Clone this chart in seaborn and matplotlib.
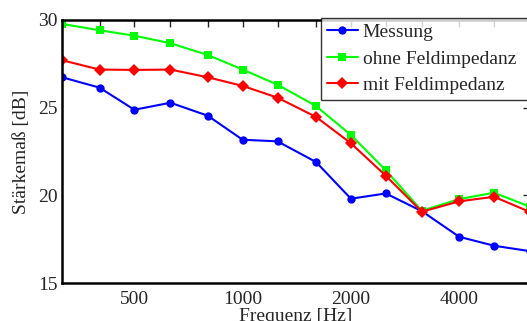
import numpy as np
import pandas as pd
import matplotlib
matplotlib.use("Agg")
import matplotlib.pyplot as plt
import seaborn as sns
from matplotlib.ticker import FixedLocator, NullFormatter

# Terzmittenfrequenzen
freq = [315, 400, 500, 630, 800, 1000, 1250, 1600, 2000, 2500, 3150, 4000, 5000, 6300]
messung = [26.73, 26.14, 24.88, 25.28, 24.54, 23.17, 23.08, 21.90, 19.81, 20.11, 19.10, 17.64, 17.13, 16.82]
ohne_fi = [29.77, 29.41, 29.10, 28.67, 28.00, 27.17, 26.31, 25.09, 23.44, 21.43, 19.12, 19.79, 20.15, 19.35]
mit_fi = [27.70, 27.17, 27.15, 27.17, 26.73, 26.24, 25.57, 24.47, 22.97, 21.12, 19.07, 19.66, 19.92, 19.05]
names = ["Messung", "ohne Feldimpedanz", "mit Feldimpedanz"]
label_ticks = [500, 1000, 2000, 4000]

df = pd.DataFrame({
    "f": freq * 3,
    "L": messung + ohne_fi + mit_fi,
    "serie": np.repeat(names, len(freq)),
})

sns.set_style("white")
plt.rcParams['font.family'] = ['Liberation Serif', 'DejaVu Serif']

fig = plt.figure(figsize=(5.27, 3.21), dpi=100)
ax = fig.add_axes([0.118, 0.118, 0.888, 0.820])

sns.lineplot(data=df, x="f", y="L", hue="serie", style="serie",
             palette={"Messung": "#0000ff", "ohne Feldimpedanz": "#00ff00", "mit Feldimpedanz": "#ff0000"},
             markers={"Messung": "o", "ohne Feldimpedanz": "s", "mit Feldimpedanz": "D"},
             dashes=False, linewidth=1.5, markersize=6, markeredgewidth=0,
             ax=ax)

ax.set_xscale("log")
ax.set_xlim(315, 6300)
ax.set_ylim(15, 30)
ax.xaxis.set_major_locator(FixedLocator(label_ticks))
ax.xaxis.set_major_formatter(matplotlib.ticker.FixedFormatter([str(t) for t in label_ticks]))
ax.xaxis.set_minor_locator(FixedLocator([t for t in freq if t not in label_ticks]))
ax.xaxis.set_minor_formatter(NullFormatter())
ax.set_yticks([15, 20, 25, 30])
ax.tick_params(axis="both", which="both", direction="in", top=True, right=True,
               labelsize=14, length=5, width=1, pad=3)
ax.tick_params(axis="x", which="major", pad=6)

for s in ax.spines.values():
    s.set_linewidth(1.8)
    s.set_color("black")

ax.set_xlabel("Frequenz [Hz]", fontsize=14, labelpad=0)
ax.set_ylabel("Stärkemaß [dB]", fontsize=14, labelpad=6)

leg = ax.legend(loc="upper left", bbox_to_anchor=(0.553, 0.5, 0.46, 0.508), mode="expand",
                fontsize=14, frameon=True, fancybox=False, handlelength=1.6, handletextpad=0.25,
                borderpad=0.3, labelspacing=0.45, borderaxespad=0)
leg.get_frame().set_edgecolor("black")
leg.get_frame().set_linewidth(1.0)
leg.set_title(None)

fig.savefig("out.png", dpi=100)
